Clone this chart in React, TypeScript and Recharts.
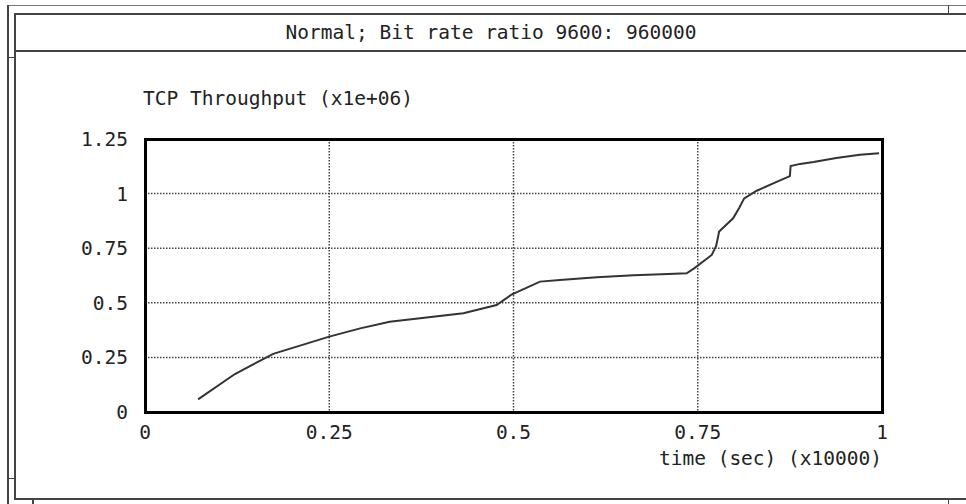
import { LineChart, Line, XAxis, YAxis, CartesianGrid } from "recharts";

// time in units of 10000 s, throughput in units of 1e6
const times = [
  0.072, 0.122, 0.174, 0.25, 0.292, 0.332, 0.382, 0.432, 0.477, 0.498, 0.536,
  0.563, 0.613, 0.663, 0.71, 0.735, 0.746, 0.769, 0.775, 0.779, 0.798, 0.806,
  0.813, 0.83, 0.857, 0.875, 0.876, 0.889, 0.907, 0.938, 0.97, 0.996,
];
const throughput = [
  0.058, 0.174, 0.266, 0.345, 0.383, 0.413, 0.433, 0.452, 0.49, 0.539, 0.597,
  0.604, 0.617, 0.626, 0.632, 0.635, 0.66, 0.719, 0.76, 0.826, 0.887, 0.933,
  0.978, 1.013, 1.054, 1.08, 1.126, 1.136, 1.145, 1.163, 1.178, 1.185,
];
const xTicks = [0, 0.25, 0.5, 0.75, 1];
const yTicks = [0, 0.25, 0.5, 0.75, 1, 1.25];

const data = times.map((t, i) => ({ t, v: throughput[i] }));

const FONT = '"DejaVu Sans Mono", monospace';
const INK = "#333";

// plot box inside the 966x504 chart
const PLOT = { left: 145, top: 139, right: 882, bottom: 412 };

const fmt = (v: number) => String(v);

function Bar({ x, y, w, h, c = "#444" }: { x: number; y: number; w: number; h: number; c?: string }) {
  return <div style={{ position: "absolute", left: x, top: y, width: w, height: h, background: c }} />;
}

export default function App() {
  const tickStyle = { fontFamily: FONT, fontSize: 19.5, fill: "#222" };
  return (
    <div
      style={{
        position: "absolute",
        left: 0,
        top: 0,
        width: 966,
        height: 504,
        background: "#fff",
        overflow: "hidden",
        fontFamily: FONT,
      }}
    >
      {/* window frame */}
      <Bar x={7} y={5} w={959} h={1} c="#777" />
      <Bar x={7} y={5} w={2} h={499} />
      <Bar x={14} y={13} w={2} h={487} />
      <Bar x={14} y={13} w={952} h={2} />
      <Bar x={14} y={50} w={952} h={2} />
      <Bar x={14} y={498} w={952} h={2} />
      <Bar x={948} y={5} w={1} h={8} />
      <Bar x={948} y={500} w={1} h={4} />
      <Bar x={32} y={500} w={2} h={4} />
      <Bar x={9} y={478} w={5} h={1} />
      <Bar x={9} y={57} w={5} h={1} />

      <div
        style={{
          position: "absolute",
          left: 16,
          top: 15,
          width: 950,
          height: 35,
          lineHeight: "35px",
          textAlign: "center",
          fontSize: 19.5,
          color: "#222",
        }}
      >
        Normal; Bit rate ratio 9600: 960000
      </div>
      <div
        style={{ position: "absolute", left: 143, top: 86, fontSize: 19.5, lineHeight: "26px", color: "#222" }}
      >
        TCP Throughput (x1e+06)
      </div>
      <div
        style={{
          position: "absolute",
          right: 966 - PLOT.right,
          top: 446,
          fontSize: 19.5,
          lineHeight: "26px",
          color: "#222",
          whiteSpace: "pre",
        }}
      >
        time (sec) (x10000)
      </div>

      <div style={{ position: "absolute", left: 0, top: 0 }}>
        <LineChart
          width={966}
          height={504}
          data={data}
          margin={{ top: PLOT.top, right: 966 - PLOT.right, bottom: 504 - PLOT.bottom - 50, left: PLOT.left - 60 }}
        >
          <CartesianGrid stroke="#444" strokeWidth={1.5} strokeDasharray="1.5 1.5" />
          <XAxis
            dataKey="t"
            type="number"
            domain={[0, 1]}
            ticks={xTicks}
            tickFormatter={fmt}
            height={50}
            tickLine={false}
            tickSize={0}
            tickMargin={13}
            axisLine={false}
            tick={tickStyle}
            interval={0}
          />
          <YAxis
            type="number"
            domain={[0, 1.25]}
            ticks={yTicks}
            tickFormatter={fmt}
            width={60}
            tickLine={false}
            tickSize={0}
            tickMargin={17}
            axisLine={false}
            tick={tickStyle}
            interval={0}
          />
          <Line
            type="linear"
            dataKey="v"
            stroke={INK}
            strokeWidth={2}
            dot={false}
            isAnimationActive={false}
          />
        </LineChart>
      </div>

      {/* heavy frame around the plot area */}
      <div
        style={{
          position: "absolute",
          left: PLOT.left - 1.5,
          top: PLOT.top - 1.5,
          width: PLOT.right - PLOT.left - 3,
          height: PLOT.bottom - PLOT.top - 3,
          border: "3px solid #000",
          pointerEvents: "none",
          boxSizing: "content-box",
        }}
      />
    </div>
  );
}
